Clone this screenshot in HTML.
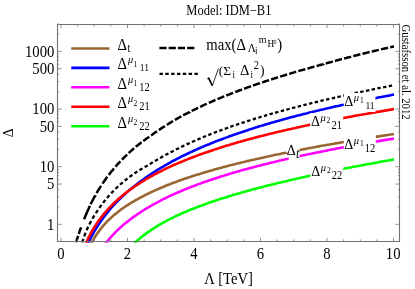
<!DOCTYPE html><html><head><meta charset="utf-8"><style>html,body{margin:0;padding:0;background:#fff}svg{display:block}text{font-family:"Liberation Serif",serif;fill:#000}</style></head><body>
<svg width="415" height="289" viewBox="0 0 415 289" style="will-change:transform">
<rect width="415" height="289" fill="#fff"/>
<defs><clipPath id="c"><rect x="57.5" y="24.5" width="342.0" height="218.3"/></clipPath></defs>
<g clip-path="url(#c)" fill="none" stroke-width="2.60" stroke-linejoin="round">
<path d="M90.5 245.0 L91.2 243.6 L91.9 242.3 L92.7 240.8 L93.5 239.4 L94.3 238.1 L95.1 236.7 L96.0 235.4 L96.9 234.1 L97.7 232.9 L98.7 231.6 L99.6 230.3 L100.5 229.1 L101.5 227.9 L102.5 226.7 L103.5 225.5 L104.5 224.4 L105.6 223.2 L106.6 222.0 L107.7 220.9 L108.8 219.9 L110.0 218.7 L111.1 217.7 L112.3 216.6 L113.4 215.6 L114.6 214.6 L115.8 213.7 L117.0 212.7 L118.2 211.7 L119.5 210.7 L120.7 209.8 L122.0 208.9 L123.2 208.0 L124.5 207.2 L125.8 206.3 L127.1 205.4 L128.4 204.6 L129.8 203.7 L131.1 202.9 L132.4 202.1 L133.7 201.3 L135.1 200.5 L136.4 199.8 L137.7 199.1 L139.0 198.3 L140.4 197.6 L141.8 196.9 L143.2 196.1 L144.6 195.4 L146.0 194.7 L147.4 194.0 L148.8 193.3 L150.2 192.7 L151.6 192.0 L152.9 191.4 L154.3 190.7 L155.7 190.1 L157.1 189.5 L158.5 188.9 L159.9 188.3 L161.3 187.7 L162.7 187.1 L164.1 186.5 L165.4 185.9 L166.9 185.3 L168.4 184.7 L169.9 184.2 L171.3 183.6 L172.8 183.0 L174.3 182.5 L175.8 181.9 L177.3 181.4 L178.7 180.8 L180.2 180.3 L181.7 179.8 L183.2 179.3 L184.7 178.8 L186.2 178.2 L187.7 177.7 L189.2 177.2 L190.7 176.8 L192.2 176.3 L193.7 175.8 L195.1 175.3 L196.6 174.8 L198.1 174.4 L199.6 173.9 L201.1 173.5 L202.6 173.0 L204.1 172.6 L205.6 172.1 L207.1 171.7 L208.6 171.2 L210.1 170.8 L211.6 170.4 L213.0 170.0 L214.5 169.5 L216.0 169.1 L217.5 168.7 L219.0 168.3 L220.5 167.9 L222.0 167.5 L223.5 167.1 L225.0 166.7 L226.5 166.3 L228.0 165.9 L229.4 165.5 L230.9 165.1 L232.4 164.8 L233.9 164.4 L235.4 164.0 L236.9 163.6 L238.4 163.3 L239.9 162.9 L241.4 162.5 L242.9 162.2 L244.4 161.8 L245.9 161.5 L247.3 161.1 L248.8 160.7 L250.3 160.4 L251.8 160.1 L253.3 159.7 L254.8 159.4 L256.3 159.0 L257.8 158.7 L259.3 158.4 L260.8 158.0 L262.3 157.7 L263.8 157.4 L265.2 157.0 L266.7 156.7 L268.2 156.4 L269.7 156.1 L271.2 155.8 L272.7 155.4 L274.2 155.1 L275.7 154.8 L277.2 154.5 L278.7 154.2 L280.2 153.9 L281.6 153.6 L283.1 153.3 L284.6 153.0 L286.1 152.7 L287.6 152.4 L289.1 152.1 L290.6 151.8 L292.1 151.5 L293.6 151.2 L295.1 150.9 L296.6 150.6 L298.1 150.3 L299.5 150.0 L301.0 149.7 L302.5 149.4 L304.0 149.1 L305.5 148.9 L307.0 148.6 L308.5 148.3 L310.0 148.0 L311.5 147.7 L313.0 147.5 L314.5 147.2 L315.9 146.9 L317.4 146.6 L318.9 146.4 L320.4 146.1 L321.9 145.8 L323.4 145.5 L324.9 145.3 L326.4 145.0 L327.9 144.7 L329.4 144.5 L330.9 144.2 L332.4 144.0 L333.8 143.7 L335.3 143.4 L336.8 143.2 L338.3 142.9 L339.8 142.7 L341.3 142.4 L342.8 142.2 L344.3 141.9 L345.8 141.7 L347.3 141.4 L348.8 141.2 L350.3 140.9 L351.7 140.7 L353.2 140.4 L354.7 140.2 L356.2 139.9 L357.7 139.7 L359.2 139.4 L360.7 139.2 L362.2 139.0 L363.7 138.7 L365.2 138.5 L366.7 138.2 L368.1 138.0 L369.6 137.8 L371.1 137.5 L372.6 137.3 L374.1 137.1 L375.6 136.8 L377.1 136.6 L378.6 136.4 L380.1 136.1 L381.6 135.9 L383.1 135.7 L384.6 135.4 L386.0 135.2 L387.5 135.0 L389.0 134.8 L390.5 134.5 L392.0 134.3 L393.5 134.1 L394.0 134.0" stroke="#996633"/>
<path d="M87.4 245.2 L88.1 243.6 L88.8 242.1 L89.4 240.6 L90.1 239.2 L90.8 237.8 L91.5 236.5 L92.3 235.1 L93.1 233.6 L93.8 232.3 L94.6 230.9 L95.4 229.6 L96.3 228.2 L97.1 226.9 L98.0 225.5 L98.8 224.2 L99.7 223.0 L100.6 221.6 L101.5 220.3 L102.4 219.0 L103.3 217.7 L104.2 216.5 L105.2 215.3 L106.1 214.0 L107.1 212.8 L108.1 211.6 L109.1 210.4 L110.1 209.2 L111.1 208.0 L112.1 206.9 L113.2 205.7 L114.3 204.5 L115.3 203.4 L116.4 202.3 L117.5 201.2 L118.6 200.1 L119.7 199.0 L120.7 198.0 L121.9 196.9 L123.0 195.8 L124.2 194.7 L125.4 193.7 L126.5 192.6 L127.7 191.6 L128.8 190.6 L130.0 189.6 L131.2 188.7 L132.4 187.7 L133.7 186.7 L134.9 185.7 L136.1 184.7 L137.4 183.8 L138.6 182.8 L139.9 181.9 L141.1 181.0 L142.4 180.1 L143.6 179.2 L144.8 178.3 L146.1 177.4 L147.4 176.5 L148.7 175.6 L150.0 174.8 L151.3 173.9 L152.6 173.0 L153.9 172.2 L155.2 171.4 L156.5 170.5 L157.8 169.7 L159.2 168.9 L160.5 168.1 L161.8 167.3 L163.1 166.6 L164.4 165.8 L165.7 165.0 L167.0 164.3 L168.3 163.5 L169.7 162.8 L171.1 162.0 L172.5 161.2 L173.9 160.5 L175.3 159.8 L176.7 159.0 L178.1 158.3 L179.5 157.6 L180.9 156.9 L182.3 156.2 L183.7 155.5 L185.1 154.8 L186.5 154.1 L187.9 153.5 L189.3 152.8 L190.8 152.1 L192.2 151.5 L193.6 150.8 L195.0 150.2 L196.4 149.6 L197.8 148.9 L199.2 148.3 L200.6 147.7 L202.0 147.1 L203.4 146.5 L204.8 145.9 L206.2 145.3 L207.7 144.7 L209.1 144.2 L210.5 143.6 L211.9 143.0 L213.3 142.5 L214.7 141.9 L216.1 141.3 L217.5 140.8 L218.9 140.3 L220.3 139.7 L221.7 139.2 L223.2 138.7 L224.6 138.1 L226.0 137.6 L227.4 137.1 L228.9 136.5 L230.4 136.0 L231.9 135.5 L233.3 134.9 L234.8 134.4 L236.3 133.9 L237.8 133.4 L239.3 132.9 L240.8 132.4 L242.3 131.9 L243.8 131.4 L245.3 130.9 L246.8 130.4 L248.3 129.9 L249.7 129.4 L251.2 128.9 L252.7 128.5 L254.2 128.0 L255.7 127.5 L257.2 127.1 L258.7 126.6 L260.2 126.1 L261.7 125.7 L263.2 125.2 L264.7 124.8 L266.2 124.3 L267.6 123.9 L269.1 123.5 L270.6 123.0 L272.1 122.6 L273.6 122.2 L275.1 121.7 L276.6 121.3 L278.1 120.9 L279.6 120.5 L281.1 120.1 L282.6 119.6 L284.1 119.2 L285.5 118.8 L287.0 118.4 L288.5 118.0 L290.0 117.6 L291.5 117.2 L293.0 116.8 L294.5 116.4 L296.0 116.0 L297.5 115.6 L299.0 115.3 L300.5 114.9 L301.9 114.5 L303.4 114.1 L304.9 113.7 L306.4 113.4 L307.9 113.0 L309.4 112.6 L310.9 112.3 L312.4 111.9 L313.9 111.5 L315.4 111.2 L316.9 110.8 L318.4 110.5 L319.8 110.1 L321.3 109.7 L322.8 109.4 L324.3 109.0 L325.8 108.7 L327.3 108.3 L328.8 108.0 L330.3 107.7 L331.8 107.3 L333.3 107.0 L334.8 106.6 L336.2 106.3 L337.7 106.0 L339.2 105.7 L340.7 105.3 L342.2 105.0 L343.7 104.7 L345.2 104.3 L346.7 104.0 L348.2 103.7 L349.7 103.4 L351.2 103.1 L352.7 102.8 L354.1 102.4 L355.6 102.1 L357.1 101.8 L358.6 101.5 L360.1 101.2 L361.6 100.9 L363.1 100.6 L364.6 100.3 L366.1 100.0 L367.6 99.7 L369.1 99.4 L370.6 99.1 L372.0 98.8 L373.5 98.5 L375.0 98.2 L376.5 97.9 L378.0 97.6 L379.5 97.3 L381.0 97.1 L382.5 96.8 L384.0 96.5 L385.5 96.2 L387.0 95.9 L388.4 95.7 L389.9 95.4 L391.4 95.1 L392.9 94.8 L394.0 94.6" stroke="#0000ff"/>
<path d="M104.5 245.0 L105.4 243.8 L106.4 242.5 L107.4 241.2 L108.4 240.0 L109.4 238.8 L110.4 237.7 L111.4 236.5 L112.5 235.3 L113.6 234.2 L114.7 233.0 L115.8 231.9 L116.8 230.9 L118.0 229.8 L119.2 228.7 L120.3 227.6 L121.5 226.6 L122.6 225.6 L123.8 224.6 L125.0 223.6 L126.1 222.6 L127.4 221.6 L128.6 220.7 L129.8 219.7 L131.1 218.8 L132.3 217.8 L133.6 216.9 L134.8 216.1 L136.1 215.2 L137.3 214.3 L138.6 213.5 L140.0 212.6 L141.3 211.7 L142.6 210.9 L143.9 210.0 L145.2 209.2 L146.6 208.4 L147.9 207.6 L149.2 206.9 L150.5 206.1 L151.8 205.4 L153.1 204.6 L154.5 203.8 L155.9 203.1 L157.3 202.3 L158.7 201.6 L160.1 200.9 L161.4 200.1 L162.8 199.4 L164.2 198.7 L165.6 198.1 L167.0 197.4 L168.4 196.7 L169.8 196.0 L171.2 195.4 L172.6 194.8 L174.0 194.1 L175.4 193.5 L176.8 192.9 L178.2 192.3 L179.6 191.7 L181.0 191.1 L182.4 190.5 L183.8 189.9 L185.2 189.3 L186.6 188.8 L188.0 188.2 L189.4 187.6 L190.8 187.1 L192.2 186.5 L193.7 186.0 L195.1 185.5 L196.5 184.9 L197.9 184.4 L199.3 183.9 L200.8 183.4 L202.3 182.8 L203.8 182.3 L205.3 181.8 L206.7 181.2 L208.2 180.7 L209.7 180.2 L211.2 179.7 L212.7 179.2 L214.2 178.7 L215.7 178.2 L217.2 177.7 L218.7 177.3 L220.2 176.8 L221.7 176.3 L223.2 175.9 L224.6 175.4 L226.1 174.9 L227.6 174.5 L229.1 174.0 L230.6 173.6 L232.1 173.1 L233.6 172.7 L235.1 172.3 L236.6 171.8 L238.1 171.4 L239.6 171.0 L241.0 170.5 L242.5 170.1 L244.0 169.7 L245.5 169.3 L247.0 168.9 L248.5 168.5 L250.0 168.1 L251.5 167.7 L253.0 167.3 L254.5 166.9 L256.0 166.5 L257.5 166.1 L258.9 165.7 L260.4 165.4 L261.9 165.0 L263.4 164.6 L264.9 164.2 L266.4 163.9 L267.9 163.5 L269.4 163.1 L270.9 162.8 L272.4 162.4 L273.9 162.0 L275.4 161.7 L276.8 161.3 L278.3 161.0 L279.8 160.6 L281.3 160.3 L282.8 159.9 L284.3 159.6 L285.8 159.2 L287.3 158.9 L288.8 158.6 L290.3 158.2 L291.8 157.9 L293.2 157.5 L294.7 157.2 L296.2 156.9 L297.7 156.6 L299.2 156.2 L300.7 155.9 L302.2 155.6 L303.7 155.3 L305.2 155.0 L306.7 154.6 L308.2 154.3 L309.7 154.0 L311.1 153.7 L312.6 153.4 L314.1 153.1 L315.6 152.8 L317.1 152.5 L318.6 152.2 L320.1 151.9 L321.6 151.6 L323.1 151.3 L324.6 151.0 L326.1 150.7 L327.5 150.4 L329.0 150.1 L330.5 149.8 L332.0 149.5 L333.5 149.2 L335.0 148.9 L336.5 148.6 L338.0 148.3 L339.5 148.1 L341.0 147.8 L342.5 147.5 L344.0 147.2 L345.4 146.9 L346.9 146.7 L348.4 146.4 L349.9 146.1 L351.4 145.8 L352.9 145.6 L354.4 145.3 L355.9 145.0 L357.4 144.8 L358.9 144.5 L360.4 144.2 L361.9 144.0 L363.3 143.7 L364.8 143.4 L366.3 143.2 L367.8 142.9 L369.3 142.7 L370.8 142.4 L372.3 142.2 L373.8 141.9 L375.3 141.6 L376.8 141.4 L378.3 141.1 L379.7 140.9 L381.2 140.6 L382.7 140.4 L384.2 140.1 L385.7 139.9 L387.2 139.7 L388.7 139.4 L390.2 139.2 L391.7 138.9 L393.2 138.7 L394.0 138.6" stroke="#ff00ff"/>
<path d="M85.4 245.1 L85.9 243.6 L86.5 242.2 L87.2 240.6 L87.9 239.1 L88.5 237.7 L89.2 236.3 L89.9 235.0 L90.6 233.5 L91.4 232.1 L92.2 230.7 L93.0 229.4 L93.8 228.0 L94.7 226.6 L95.6 225.3 L96.4 224.0 L97.3 222.8 L98.2 221.4 L99.2 220.1 L100.1 218.9 L101.0 217.6 L102.0 216.4 L103.0 215.1 L104.0 213.9 L105.0 212.7 L106.0 211.5 L107.0 210.4 L108.1 209.2 L109.1 208.0 L110.2 206.9 L111.3 205.8 L112.4 204.7 L113.4 203.6 L114.6 202.5 L115.8 201.4 L116.9 200.4 L118.1 199.3 L119.2 198.3 L120.4 197.3 L121.6 196.4 L122.7 195.4 L124.0 194.4 L125.2 193.4 L126.4 192.5 L127.7 191.5 L128.9 190.6 L130.2 189.7 L131.4 188.8 L132.7 187.9 L133.9 187.0 L135.1 186.2 L136.5 185.3 L137.8 184.4 L139.1 183.6 L140.4 182.7 L141.8 181.9 L143.1 181.1 L144.4 180.3 L145.7 179.5 L147.0 178.7 L148.4 178.0 L149.7 177.2 L151.0 176.5 L152.4 175.7 L153.8 174.9 L155.2 174.2 L156.5 173.5 L157.9 172.7 L159.3 172.0 L160.7 171.3 L162.1 170.6 L163.5 169.9 L164.9 169.2 L166.3 168.5 L167.6 167.9 L169.0 167.2 L170.4 166.6 L171.8 165.9 L173.2 165.3 L174.6 164.7 L176.0 164.1 L177.4 163.5 L178.8 162.9 L180.2 162.3 L181.6 161.7 L183.1 161.1 L184.5 160.5 L185.9 159.9 L187.3 159.4 L188.7 158.8 L190.1 158.3 L191.5 157.7 L192.9 157.2 L194.3 156.7 L195.7 156.1 L197.1 155.6 L198.5 155.1 L200.0 154.5 L201.5 154.0 L203.0 153.5 L204.5 152.9 L206.0 152.4 L207.5 151.9 L209.0 151.4 L210.5 150.9 L212.0 150.4 L213.5 149.9 L214.9 149.4 L216.4 148.9 L217.9 148.4 L219.4 148.0 L220.9 147.5 L222.4 147.0 L223.9 146.5 L225.4 146.1 L226.9 145.6 L228.4 145.2 L229.9 144.7 L231.4 144.3 L232.8 143.8 L234.3 143.4 L235.8 143.0 L237.3 142.5 L238.8 142.1 L240.3 141.7 L241.8 141.2 L243.3 140.8 L244.8 140.4 L246.3 140.0 L247.8 139.6 L249.3 139.2 L250.7 138.8 L252.2 138.4 L253.7 138.0 L255.2 137.6 L256.7 137.2 L258.2 136.8 L259.7 136.4 L261.2 136.0 L262.7 135.7 L264.2 135.3 L265.7 134.9 L267.1 134.5 L268.6 134.2 L270.1 133.8 L271.6 133.4 L273.1 133.1 L274.6 132.7 L276.1 132.3 L277.6 132.0 L279.1 131.6 L280.6 131.3 L282.1 130.9 L283.6 130.6 L285.0 130.2 L286.5 129.9 L288.0 129.5 L289.5 129.2 L291.0 128.9 L292.5 128.5 L294.0 128.2 L295.5 127.9 L297.0 127.5 L298.5 127.2 L300.0 126.9 L301.4 126.5 L302.9 126.2 L304.4 125.9 L305.9 125.6 L307.4 125.3 L308.9 124.9 L310.4 124.6 L311.9 124.3 L313.4 124.0 L314.9 123.7 L316.4 123.4 L317.9 123.1 L319.3 122.8 L320.8 122.5 L322.3 122.2 L323.8 121.9 L325.3 121.6 L326.8 121.3 L328.3 121.0 L329.8 120.7 L331.3 120.4 L332.8 120.1 L334.3 119.8 L335.8 119.5 L337.2 119.2 L338.7 118.9 L340.2 118.6 L341.7 118.3 L343.2 118.1 L344.7 117.8 L346.2 117.5 L347.7 117.2 L349.2 116.9 L350.7 116.7 L352.2 116.4 L353.6 116.1 L355.1 115.8 L356.6 115.6 L358.1 115.3 L359.6 115.0 L361.1 114.8 L362.6 114.5 L364.1 114.2 L365.6 114.0 L367.1 113.7 L368.6 113.4 L370.1 113.2 L371.5 112.9 L373.0 112.7 L374.5 112.4 L376.0 112.1 L377.5 111.9 L379.0 111.6 L380.5 111.4 L382.0 111.1 L383.5 110.9 L385.0 110.6 L386.5 110.4 L388.0 110.1 L389.4 109.9 L390.9 109.6 L392.4 109.4 L393.9 109.1 L394.0 109.1" stroke="#ff0000"/>
<path d="M132.6 245.1 L133.7 244.0 L134.8 242.9 L136.0 241.8 L137.1 240.8 L138.3 239.7 L139.5 238.7 L140.6 237.8 L141.9 236.8 L143.1 235.8 L144.3 234.9 L145.6 233.9 L146.8 233.0 L148.0 232.1 L149.3 231.3 L150.6 230.4 L151.9 229.5 L153.2 228.6 L154.5 227.8 L155.8 227.0 L157.1 226.2 L158.4 225.4 L159.7 224.6 L161.0 223.8 L162.3 223.1 L163.7 222.3 L165.1 221.6 L166.5 220.8 L167.9 220.1 L169.3 219.4 L170.7 218.7 L172.1 218.0 L173.5 217.3 L174.9 216.6 L176.3 215.9 L177.7 215.3 L179.1 214.6 L180.5 214.0 L181.9 213.4 L183.3 212.8 L184.7 212.2 L186.1 211.6 L187.5 211.0 L188.9 210.4 L190.3 209.8 L191.8 209.2 L193.2 208.7 L194.6 208.1 L196.0 207.6 L197.4 207.0 L198.8 206.5 L200.2 206.0 L201.6 205.5 L203.0 204.9 L204.5 204.4 L206.0 203.9 L207.5 203.3 L209.0 202.8 L210.5 202.3 L212.0 201.8 L213.5 201.3 L214.9 200.8 L216.4 200.3 L217.9 199.8 L219.4 199.3 L220.9 198.8 L222.4 198.3 L223.9 197.9 L225.4 197.4 L226.9 196.9 L228.4 196.5 L229.9 196.0 L231.4 195.6 L232.8 195.1 L234.3 194.7 L235.8 194.2 L237.3 193.8 L238.8 193.4 L240.3 192.9 L241.8 192.5 L243.3 192.1 L244.8 191.7 L246.3 191.2 L247.8 190.8 L249.3 190.4 L250.7 190.0 L252.2 189.6 L253.7 189.2 L255.2 188.8 L256.7 188.4 L258.2 188.0 L259.7 187.6 L261.2 187.2 L262.7 186.9 L264.2 186.5 L265.7 186.1 L267.1 185.7 L268.6 185.3 L270.1 185.0 L271.6 184.6 L273.1 184.2 L274.6 183.9 L276.1 183.5 L277.6 183.1 L279.1 182.8 L280.6 182.4 L282.1 182.1 L283.6 181.7 L285.0 181.4 L286.5 181.0 L288.0 180.7 L289.5 180.3 L291.0 180.0 L292.5 179.6 L294.0 179.3 L295.5 178.9 L297.0 178.6 L298.5 178.3 L300.0 177.9 L301.4 177.6 L302.9 177.3 L304.4 176.9 L305.9 176.6 L307.4 176.3 L308.9 176.0 L310.4 175.6 L311.9 175.3 L313.4 175.0 L314.9 174.7 L316.4 174.4 L317.9 174.0 L319.3 173.7 L320.8 173.4 L322.3 173.1 L323.8 172.8 L325.3 172.5 L326.8 172.2 L328.3 171.9 L329.8 171.6 L331.3 171.2 L332.8 170.9 L334.3 170.6 L335.8 170.3 L337.2 170.0 L338.7 169.7 L340.2 169.4 L341.7 169.2 L343.2 168.9 L344.7 168.6 L346.2 168.3 L347.7 168.0 L349.2 167.7 L350.7 167.4 L352.2 167.1 L353.6 166.8 L355.1 166.5 L356.6 166.3 L358.1 166.0 L359.6 165.7 L361.1 165.4 L362.6 165.1 L364.1 164.8 L365.6 164.6 L367.1 164.3 L368.6 164.0 L370.1 163.7 L371.5 163.5 L373.0 163.2 L374.5 162.9 L376.0 162.7 L377.5 162.4 L379.0 162.1 L380.5 161.8 L382.0 161.6 L383.5 161.3 L385.0 161.0 L386.5 160.8 L388.0 160.5 L389.4 160.3 L390.9 160.0 L392.4 159.7 L393.9 159.5 L394.0 159.5" stroke="#00ff00"/>
<path d="M76.0 242.4 L76.5 241.1 L76.9 239.7 L77.3 238.5 L77.7 237.2 L78.1 235.9M78.7 234.0 L79.2 232.7 L79.6 231.4 L80.0 230.2 L80.4 229.0 L80.9 227.9 L81.1 227.3M84.1 219.3 L84.6 218.0 L85.1 216.8 L85.6 215.6 L86.1 214.4 L86.6 213.2 L87.1 212.1 L87.6 210.9 L88.1 209.8 L88.6 208.7 L89.1 207.5 L89.7 206.2 L89.9 205.8M90.6 204.3 L91.2 203.1 L91.8 202.0 L92.4 200.8 L93.0 199.7 L93.5 198.6 L94.1 197.5 L94.7 196.5 L95.4 195.3 L95.4 195.2M96.6 193.1 L97.3 192.0 L97.9 190.8 L98.6 189.7 L99.3 188.7 L99.9 187.6 L100.6 186.6 L101.1 185.8M102.5 183.6 L103.2 182.6 L104.0 181.5 L104.7 180.4 L105.5 179.4 L106.2 178.3 L106.9 177.3 L107.3 176.8M108.8 174.9 L109.6 173.9 L110.4 172.8 L111.2 171.8 L112.0 170.8 L112.9 169.8 L113.7 168.8 L114.0 168.4M115.4 166.7 L116.3 165.8 L117.1 164.8 L117.9 163.9 L118.8 163.0 L119.6 162.2 L120.4 161.3M121.9 159.7 L122.8 158.8 L123.7 157.9 L124.6 157.0 L125.5 156.1 L126.4 155.3 L127.1 154.6M128.7 153.1 L129.6 152.2 L130.5 151.4 L131.4 150.6 L132.3 149.8 L133.2 149.0 L134.1 148.2M135.8 146.8 L136.7 146.0 L137.7 145.3 L138.7 144.5 L139.7 143.7 L140.7 142.9 L141.5 142.3M143.3 141.0 L144.3 140.3 L145.3 139.6 L146.3 138.8 L147.3 138.1 L148.3 137.4 L149.2 136.7M151.0 135.4 L152.1 134.7 L153.1 134.0 L154.1 133.3 L155.0 132.6 L156.0 131.9 L157.0 131.3M158.8 130.0 L159.9 129.4 L160.9 128.6 L162.0 127.9 L163.1 127.2 L164.2 126.5 L164.9 126.1M166.8 124.9 L167.9 124.2 L169.0 123.5 L170.0 122.9 L171.1 122.2 L172.2 121.5 L173.0 121.1M174.9 119.9 L176.0 119.3 L177.1 118.7 L178.2 118.1 L179.2 117.5 L180.3 116.9 L181.3 116.3M183.2 115.3 L184.3 114.7 L185.4 114.2 L186.4 113.6 L187.5 113.1 L188.6 112.5 L189.7 112.0 L189.7 111.9M191.7 111.0 L192.7 110.4 L193.8 109.9 L195.0 109.3 L196.1 108.8 L197.3 108.2 L198.2 107.8M200.2 106.8 L201.4 106.3 L202.5 105.7 L203.7 105.2 L204.8 104.7 L206.0 104.1 L206.8 103.8M208.8 102.9 L210.0 102.4 L211.1 101.9 L212.3 101.4 L213.5 100.8 L214.6 100.3 L215.5 100.0M217.6 99.1 L218.7 98.6 L219.8 98.1 L221.0 97.7 L222.2 97.2 L223.3 96.7 L224.3 96.3M226.3 95.5 L227.5 95.0 L228.7 94.6 L229.9 94.1 L231.0 93.6 L232.2 93.2 L233.1 92.8M235.2 92.0 L236.3 91.6 L237.5 91.2 L238.6 90.7 L239.8 90.3 L241.0 89.9 L242.0 89.5M244.1 88.7 L245.3 88.3 L246.4 87.9 L247.6 87.4 L248.8 87.0 L249.9 86.6 L251.0 86.2M253.0 85.5 L254.2 85.1 L255.4 84.7 L256.5 84.3 L257.7 83.9 L258.9 83.5 L259.9 83.1M262.0 82.4 L263.2 82.1 L264.3 81.7 L265.5 81.3 L266.7 80.9 L267.8 80.5 L269.0 80.1M271.1 79.5 L272.2 79.1 L273.4 78.7 L274.5 78.4 L275.7 78.0 L276.8 77.6 L278.0 77.3 L278.0 77.3M280.1 76.6 L281.3 76.2 L282.5 75.9 L283.6 75.5 L284.8 75.2 L286.0 74.8 L287.1 74.5M289.2 73.8 L290.4 73.5 L291.6 73.1 L292.8 72.8 L293.9 72.4 L295.1 72.1 L296.2 71.8M298.3 71.1 L299.5 70.8 L300.7 70.4 L301.9 70.1 L303.0 69.8 L304.2 69.5 L305.3 69.1M307.4 68.5 L308.7 68.2 L309.8 67.9 L311.0 67.5 L312.1 67.2 L313.3 66.9 L314.5 66.6 L314.5 66.6M316.6 66.0 L317.8 65.7 L318.9 65.3 L320.1 65.0 L321.3 64.7 L322.4 64.4 L323.6 64.1 L323.6 64.0M325.8 63.5 L327.0 63.1 L328.1 62.8 L329.3 62.5 L330.4 62.2 L331.6 61.9 L332.8 61.5 L332.8 61.5M334.9 61.0 L336.1 60.6 L337.2 60.3 L338.4 60.0 L339.6 59.7 L340.7 59.4 L341.9 59.1 L342.0 59.1M344.1 58.5 L345.3 58.2 L346.5 57.9 L347.8 57.5 L349.0 57.2 L350.3 56.9 L351.2 56.6M353.3 56.1 L354.5 55.8 L355.7 55.5 L357.0 55.2 L358.2 54.8 L359.4 54.5 L360.4 54.3M362.5 53.8 L363.7 53.5 L364.9 53.2 L366.2 52.9 L367.4 52.6 L368.6 52.3 L369.6 52.0M371.7 51.5 L373.0 51.3 L374.2 51.0 L375.4 50.7 L376.7 50.4 L377.9 50.1 L378.8 49.9M381.0 49.4 L382.2 49.1 L383.5 48.8 L384.7 48.5 L386.0 48.2 L387.2 48.0 L388.1 47.8M390.2 47.3 L391.4 47.0 L392.7 46.7 L393.9 46.5 L394.0 46.5" stroke="#000" stroke-width="2.50"/>
<path d="M82.1 242.5 L82.5 241.1 L83.0 239.8 L83.3 238.8M84.2 236.3 L84.7 235.0 L85.2 233.7 L85.6 232.7M86.6 230.2 L87.2 228.9 L87.7 227.8 L88.2 226.8M89.4 224.4 L90.0 223.1 L90.6 222.0 L91.2 221.0M92.5 218.7 L93.1 217.6 L93.8 216.4 L94.4 215.5M95.8 213.2 L96.5 212.2 L97.2 211.1 L97.8 210.1 L97.8 210.1M99.3 207.9 L100.0 207.0 L100.8 205.9 L101.5 204.9M103.1 202.9 L103.8 201.9 L104.7 200.8 L105.4 200.0M107.0 198.0 L107.9 197.0 L108.7 196.1 L109.4 195.2M111.2 193.3 L112.0 192.4 L112.9 191.5 L113.7 190.7M115.5 188.9 L116.4 188.0 L117.3 187.2 L118.2 186.4M120.0 184.7 L121.0 183.9 L122.0 183.0 L122.8 182.4M124.7 180.7 L125.7 179.9 L126.7 179.1 L127.5 178.5M129.5 177.0 L130.5 176.2 L131.5 175.5 L132.4 174.9M134.4 173.4 L135.4 172.7 L136.5 172.0 L137.4 171.5M139.5 170.2 L140.5 169.5 L141.6 168.9 L142.5 168.4M144.6 167.1 L145.7 166.5 L146.8 165.9 L147.7 165.4M149.8 164.1 L150.9 163.4 L152.0 162.8 L152.8 162.3M154.9 161.0 L156.0 160.4 L157.1 159.8 L158.0 159.3M160.1 158.0 L161.2 157.4 L162.3 156.8 L163.2 156.3M165.3 155.1 L166.4 154.5 L167.5 153.9 L168.4 153.4M170.6 152.3 L171.7 151.7 L172.8 151.2 L173.7 150.7M175.9 149.6 L177.0 149.0 L178.1 148.5 L179.0 148.0M181.2 147.0 L182.4 146.4 L183.5 145.8 L184.4 145.5M186.6 144.4 L187.7 143.9 L188.9 143.4 L189.7 143.0M192.0 142.0 L193.1 141.5 L194.2 141.0 L195.2 140.6M197.4 139.6 L198.5 139.1 L199.7 138.6 L200.6 138.2M202.8 137.3 L204.0 136.8 L205.2 136.3 L206.0 136.0M208.3 135.1 L209.5 134.6 L210.6 134.2 L211.5 133.8M213.8 132.9 L214.9 132.5 L216.1 132.0 L217.0 131.7M219.3 130.8 L220.5 130.4 L221.7 130.0 L222.5 129.6M224.8 128.8 L226.0 128.4 L227.1 128.0 L228.1 127.6M230.4 126.8 L231.5 126.4 L232.7 126.0 L233.6 125.7M235.9 124.9 L237.1 124.5 L238.2 124.1 L239.2 123.8M241.5 123.0 L242.7 122.6 L243.9 122.3 L244.8 122.0M247.1 121.2 L248.3 120.8 L249.4 120.5 L250.4 120.2M252.7 119.5 L253.9 119.1 L255.1 118.7 L256.0 118.4M258.3 117.7 L259.4 117.4 L260.6 117.0 L261.6 116.7M263.9 116.0 L265.1 115.7 L266.2 115.3 L267.2 115.1M269.5 114.4 L270.7 114.0 L271.9 113.7 L272.8 113.4M275.1 112.8 L276.3 112.4 L277.5 112.1 L278.4 111.8M280.8 111.2 L282.0 110.9 L283.1 110.5 L284.1 110.3M286.4 109.6 L287.6 109.3 L288.8 109.0 L289.7 108.8M292.1 108.1 L293.2 107.8 L294.5 107.5 L295.4 107.3M297.7 106.7 L298.9 106.4 L300.1 106.0 L301.0 105.8M303.4 105.2 L304.6 104.9 L305.8 104.6 L306.7 104.4M309.0 103.8 L310.2 103.5 L311.5 103.2 L312.4 103.0M314.7 102.4 L315.9 102.1 L317.2 101.8 L318.0 101.6M320.4 101.0 L321.6 100.7 L322.8 100.4 L323.7 100.2M326.1 99.7 L327.3 99.4 L328.5 99.1 L329.4 98.9M331.8 98.3 L332.9 98.1 L334.2 97.8 L335.1 97.6M337.4 97.0 L338.7 96.8 L339.9 96.5 L340.8 96.3M343.1 95.7 L344.4 95.5 L345.6 95.2 L346.5 95.0M348.8 94.5 L350.0 94.2 L351.2 94.0 L352.2 93.8M354.5 93.2 L355.7 93.0 L357.0 92.7 L357.9 92.5M360.2 92.0 L361.4 91.8 L362.7 91.5 L363.6 91.3M365.9 90.8 L367.2 90.6 L368.4 90.3 L369.3 90.1M371.6 89.6 L372.9 89.4 L374.1 89.1 L375.0 89.0M377.4 88.5 L378.6 88.2 L379.8 88.0 L380.7 87.8M383.1 87.3 L384.3 87.1 L385.5 86.9 L386.4 86.7M388.8 86.2 L390.0 86.0 L391.3 85.7 L392.1 85.6" stroke="#000" stroke-width="2.30"/>
</g>
<path d="M61.00 241.50v-3.70M61.00 24.50v3.70M77.62 241.50v-2.10M77.62 24.50v2.10M94.25 241.50v-2.10M94.25 24.50v2.10M110.88 241.50v-2.10M110.88 24.50v2.10M127.50 241.50v-3.70M127.50 24.50v3.70M144.12 241.50v-2.10M144.12 24.50v2.10M160.75 241.50v-2.10M160.75 24.50v2.10M177.38 241.50v-2.10M177.38 24.50v2.10M194.00 241.50v-3.70M194.00 24.50v3.70M210.62 241.50v-2.10M210.62 24.50v2.10M227.25 241.50v-2.10M227.25 24.50v2.10M243.88 241.50v-2.10M243.88 24.50v2.10M260.50 241.50v-3.70M260.50 24.50v3.70M277.12 241.50v-2.10M277.12 24.50v2.10M293.75 241.50v-2.10M293.75 24.50v2.10M310.38 241.50v-2.10M310.38 24.50v2.10M327.00 241.50v-3.70M327.00 24.50v3.70M343.62 241.50v-2.10M343.62 24.50v2.10M360.25 241.50v-2.10M360.25 24.50v2.10M376.88 241.50v-2.10M376.88 24.50v2.10M393.50 241.50v-3.70M393.50 24.50v3.70M57.50 224.35h4.20M399.50 224.35h-4.20M57.50 207.00h1.60M399.50 207.00h-1.60M57.50 196.84h1.60M399.50 196.84h-1.60M57.50 189.64h1.60M399.50 189.64h-1.60M57.50 184.05h4.20M399.50 184.05h-4.20M57.50 179.49h1.60M399.50 179.49h-1.60M57.50 175.63h1.60M399.50 175.63h-1.60M57.50 172.29h1.60M399.50 172.29h-1.60M57.50 169.34h1.60M399.50 169.34h-1.60M57.50 166.70h4.20M399.50 166.70h-4.20M57.50 149.35h1.60M399.50 149.35h-1.60M57.50 139.19h1.60M399.50 139.19h-1.60M57.50 131.99h1.60M399.50 131.99h-1.60M57.50 126.40h4.20M399.50 126.40h-4.20M57.50 121.84h1.60M399.50 121.84h-1.60M57.50 117.98h1.60M399.50 117.98h-1.60M57.50 114.64h1.60M399.50 114.64h-1.60M57.50 111.69h1.60M399.50 111.69h-1.60M57.50 109.05h4.20M399.50 109.05h-4.20M57.50 91.70h1.60M399.50 91.70h-1.60M57.50 81.54h1.60M399.50 81.54h-1.60M57.50 74.34h1.60M399.50 74.34h-1.60M57.50 68.75h4.20M399.50 68.75h-4.20M57.50 64.19h1.60M399.50 64.19h-1.60M57.50 60.33h1.60M399.50 60.33h-1.60M57.50 56.99h1.60M399.50 56.99h-1.60M57.50 54.04h1.60M399.50 54.04h-1.60M57.50 51.40h4.20M399.50 51.40h-4.20M57.50 34.05h1.60M399.50 34.05h-1.60M57.50 23.89h1.60M399.50 23.89h-1.60" fill="none" stroke="#7a7a7a" stroke-width="0.80"/>
<path d="M57.50 24.50H399.50V241.50H57.50Z" fill="none" stroke="#727272" stroke-width="1.10"/>
<text transform="translate(61.00 258.90) scale(1 1.090)" font-size="14.70" text-anchor="middle">0</text>
<text transform="translate(127.50 258.90) scale(1 1.090)" font-size="14.70" text-anchor="middle">2</text>
<text transform="translate(194.00 258.90) scale(1 1.090)" font-size="14.70" text-anchor="middle">4</text>
<text transform="translate(260.50 258.90) scale(1 1.090)" font-size="14.70" text-anchor="middle">6</text>
<text transform="translate(327.00 258.90) scale(1 1.090)" font-size="14.70" text-anchor="middle">8</text>
<text transform="translate(393.20 258.90) scale(1 1.090)" font-size="14.70" text-anchor="middle">10</text>
<text transform="translate(54.40 229.55) scale(1 1.090)" font-size="14.70" text-anchor="end">1</text>
<text transform="translate(54.40 189.25) scale(1 1.090)" font-size="14.70" text-anchor="end">5</text>
<text transform="translate(54.40 171.90) scale(1 1.090)" font-size="14.70" text-anchor="end">10</text>
<text transform="translate(54.40 131.60) scale(1 1.090)" font-size="14.70" text-anchor="end">50</text>
<text transform="translate(54.40 114.25) scale(1 1.090)" font-size="14.70" text-anchor="end">100</text>
<text transform="translate(54.40 73.95) scale(1 1.090)" font-size="14.70" text-anchor="end">500</text>
<text transform="translate(54.40 56.60) scale(1 1.090)" font-size="14.70" text-anchor="end">1000</text>
<text transform="translate(228.90 14.80) scale(1 1.100)" font-size="12.50" text-anchor="middle">Model: IDM−B1</text>
<text transform="translate(228.60 283.70) scale(1 1.090)" font-size="14.60" text-anchor="middle">Λ [TeV]</text>
<text transform="translate(13.20 132.90) rotate(-90) scale(1 1.090)" font-size="13.50" text-anchor="middle">Δ</text>
<text transform="translate(401.60 24.60) rotate(90) scale(1 1.090)" font-size="10.70">Gustafsson et al. 2012</text>
<path d="M71.25 48.50H109.5" stroke="#996633" stroke-width="2.60" fill="none"/>
<path d="M71.25 67.90H109.5" stroke="#0000ff" stroke-width="2.60" fill="none"/>
<path d="M71.25 87.30H109.5" stroke="#ff00ff" stroke-width="2.60" fill="none"/>
<path d="M71.25 106.80H109.5" stroke="#ff0000" stroke-width="2.60" fill="none"/>
<path d="M71.25 126.25H109.5" stroke="#00ff00" stroke-width="2.60" fill="none"/>
<text transform="translate(117.50 50.30) scale(1 1.090)" font-size="14.70">Δ</text><text transform="translate(127.40 52.20) scale(1 1.090)" font-size="10.50">t</text>
<text transform="translate(117.50 69.30) scale(1 1.090)" font-size="14.70">Δ</text><text transform="translate(127.90 63.40) scale(1 0.950)" font-size="10.30" font-style="italic">μ</text><text transform="translate(133.50 66.60) scale(1 1.090)" font-size="7.50">1</text><text transform="translate(139.80 71.40) scale(1 1.120)" font-size="9.60">11</text>
<text transform="translate(117.50 88.70) scale(1 1.090)" font-size="14.70">Δ</text><text transform="translate(127.90 82.80) scale(1 0.950)" font-size="10.30" font-style="italic">μ</text><text transform="translate(133.50 86.00) scale(1 1.090)" font-size="7.50">1</text><text transform="translate(139.20 90.80) scale(1 1.120)" font-size="10.50">12</text>
<text transform="translate(117.50 108.20) scale(1 1.090)" font-size="14.70">Δ</text><text transform="translate(127.90 102.30) scale(1 0.950)" font-size="10.30" font-style="italic">μ</text><text transform="translate(133.50 105.50) scale(1 1.090)" font-size="7.50">2</text><text transform="translate(139.20 110.30) scale(1 1.120)" font-size="10.50">21</text>
<text transform="translate(117.50 127.60) scale(1 1.090)" font-size="14.70">Δ</text><text transform="translate(127.90 121.70) scale(1 0.950)" font-size="10.30" font-style="italic">μ</text><text transform="translate(133.50 124.90) scale(1 1.090)" font-size="7.50">2</text><text transform="translate(139.20 129.70) scale(1 1.120)" font-size="10.50">22</text>
<path d="M159.4 48.05H196" stroke="#000" stroke-width="2.4" stroke-dasharray="7.2 2.05" fill="none"/>
<path d="M159.5 73.8H197.9" stroke="#000" stroke-width="2.25" stroke-dasharray="3.4 2.43" fill="none"/>
<path d="M207.0 79.1L208.7 77.8" stroke="#000" stroke-width="0.7" fill="none"/><path d="M208.4 77.7L212.3 85.7" stroke="#000" stroke-width="1.7" fill="none"/><path d="M212.2 86.0L218.5 68.5" stroke="#000" stroke-width="0.8" fill="none"/>
<text transform="translate(206.30 49.50) scale(1 1.090)" font-size="14.70">max(Δ</text>
<text transform="translate(247.80 51.60) scale(1 1.090)" font-size="11.20">Λ</text>
<text transform="translate(254.90 53.90) scale(1 1.090)" font-size="9.00">i</text>
<text transform="translate(258.80 43.00) scale(1 1.090)" font-size="10.00">m</text>
<text transform="translate(267.60 46.80) scale(1 1.090)" font-size="9.30">H</text>
<text transform="translate(273.50 44.20) scale(1 1.090)" font-size="6.00">0</text>
<text transform="translate(277.20 49.50) scale(1 1.090)" font-size="14.70">)</text>
<text transform="translate(218.80 74.80) scale(1 0.950)" font-size="13.40">(Σ</text>
<text transform="translate(232.60 77.80) scale(1 1.090)" font-size="9.00">i</text>
<text transform="translate(240.00 74.80) scale(1 0.960)" font-size="14.70">Δ</text>
<text transform="translate(250.50 77.80) scale(1 1.090)" font-size="9.00">i</text>
<text transform="translate(253.80 68.80) scale(1 1.090)" font-size="10.50">2</text>
<text transform="translate(259.90 74.80) scale(1 1.090)" font-size="13.60">)</text>
<rect x="288.7" y="152.4" width="10.8" height="9.0" fill="#fff"/>
<rect x="343.8" y="93.0" width="31.6" height="19.0" fill="#fff"/>
<text transform="translate(344.30 105.60) scale(1 1.090)" font-size="14.00">Δ</text><text transform="translate(353.70 100.60) scale(1 1.050)" font-size="10.50" font-style="italic">μ</text><text transform="translate(359.90 102.70) scale(1 1.090)" font-size="7.50">1</text><text transform="translate(365.40 109.00) scale(1 1.120)" font-size="9.60">11</text>
<rect x="310.2" y="113.0" width="33.0" height="19.0" fill="#fff"/>
<text transform="translate(311.00 126.00) scale(1 1.090)" font-size="14.00">Δ</text><text transform="translate(320.40 121.00) scale(1 1.050)" font-size="10.50" font-style="italic">μ</text><text transform="translate(326.60 123.10) scale(1 1.090)" font-size="7.50">2</text><text transform="translate(331.50 129.40) scale(1 1.120)" font-size="10.50">21</text>
<rect x="343.8" y="131.0" width="32.0" height="22.0" fill="#fff"/>
<text transform="translate(344.30 148.80) scale(1 1.090)" font-size="14.00">Δ</text><text transform="translate(353.70 143.80) scale(1 1.050)" font-size="10.50" font-style="italic">μ</text><text transform="translate(359.90 145.90) scale(1 1.090)" font-size="7.50">1</text><text transform="translate(364.80 152.20) scale(1 1.120)" font-size="10.50">12</text>
<rect x="310.4" y="163.0" width="32.8" height="19.0" fill="#fff"/>
<text transform="translate(311.30 175.90) scale(1 1.090)" font-size="14.00">Δ</text><text transform="translate(320.70 170.90) scale(1 1.050)" font-size="10.50" font-style="italic">μ</text><text transform="translate(326.90 173.00) scale(1 1.090)" font-size="7.50">2</text><text transform="translate(331.80 179.30) scale(1 1.120)" font-size="10.50">22</text>
<rect x="286.2" y="142.0" width="13.3" height="10.5" fill="#fff"/>
<text transform="translate(286.80 154.70) scale(1 1.090)" font-size="14.00">Δ</text><text transform="translate(296.00 158.00) scale(1 1.090)" font-size="12.50" font-style="italic">t</text>
</svg></body></html>
